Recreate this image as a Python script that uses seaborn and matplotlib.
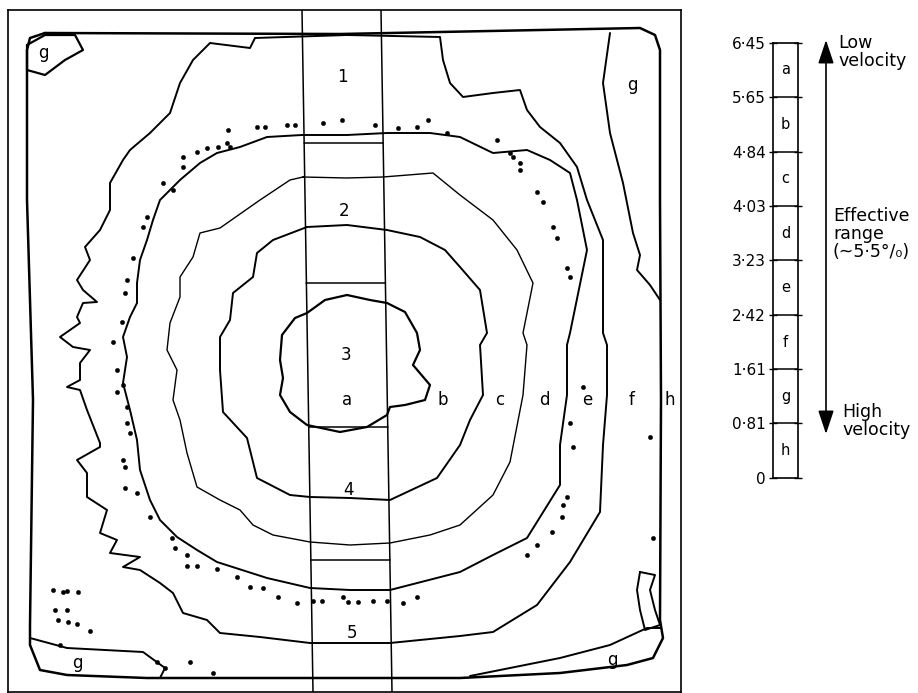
import matplotlib
matplotlib.use("Agg")
import matplotlib.pyplot as plt
import seaborn as sns
import pandas as pd

sns.set_theme(style="white")
plt.rcParams["font.family"] = ["DejaVu Sans"]
plt.rcParams["text.color"] = "black"
plt.rcParams["ytick.color"] = "black"

# ---------------- data (map units) ----------------
# contour a/b (innermost)
ab_x = [347, 370, 387, 405, 417, 420, 413, 430, 425, 405, 390, 387, 367, 340, 307, 290, 280, 283, 280, 282, 295, 307, 325, 347]
ab_y = [295, 300, 303, 312, 333, 350, 365, 385, 400, 405, 407, 415, 427, 432, 425, 412, 395, 378, 360, 335, 318, 313, 300, 295]
# contour b/c
bc_x = [307, 347, 387, 420, 445, 460, 480, 487, 480, 483, 470, 460, 437, 390, 350, 310, 290, 257, 247, 223, 220, 220, 230, 233, 253, 257, 273, 307]
bc_y = [227, 225, 230, 237, 250, 267, 290, 333, 345, 395, 420, 445, 478, 500, 498, 497, 495, 478, 438, 412, 370, 337, 320, 293, 277, 253, 240, 227]
# contour c/d
cd_x = [303, 347, 383, 433, 460, 493, 517, 533, 523, 527, 523, 510, 493, 460, 430, 390, 350, 310, 273, 253, 240, 220, 197, 187, 180, 173, 177, 167, 170, 180, 180, 193, 200, 220, 260, 290, 303]
cd_y = [177, 178, 177, 173, 195, 220, 250, 283, 333, 345, 395, 462, 495, 525, 535, 543, 545, 542, 535, 525, 510, 500, 487, 453, 420, 400, 370, 350, 323, 297, 277, 257, 233, 228, 200, 180, 177]
# contour d/e
de_x = [302, 347, 387, 430, 460, 493, 527, 550, 570, 577, 587, 570, 567, 567, 560, 560, 527, 493, 460, 390, 350, 310, 267, 217, 197, 177, 160, 150, 140, 137, 130, 123, 127, 123, 130, 137, 137, 140, 147, 153, 160, 180, 200, 217, 240, 267, 302]
de_y = [135, 135, 133, 133, 137, 153, 150, 160, 173, 200, 250, 333, 345, 395, 445, 485, 538, 555, 572, 590, 590, 588, 578, 562, 550, 537, 520, 500, 470, 440, 410, 383, 357, 337, 317, 303, 283, 260, 240, 220, 200, 180, 163, 153, 147, 137, 135]
# contour e/f
ef_x = [347, 440, 443, 450, 463, 493, 520, 527, 540, 560, 577, 587, 603, 603, 607, 607, 603, 600, 570, 537, 493, 460, 390, 310, 260, 220, 207, 183, 173, 160, 140, 123, 140, 110, 117, 100, 107, 87, 87, 77, 100, 100, 87, 80, 67, 80, 80, 90, 73, 60, 80, 77, 83, 97, 83, 77, 90, 85, 100, 110, 110, 123, 130, 150, 170, 180, 193, 210, 250, 255, 347]
ef_y = [35, 37, 60, 83, 97, 93, 90, 110, 127, 143, 167, 200, 240, 333, 345, 395, 445, 512, 562, 605, 632, 636, 643, 643, 637, 633, 620, 613, 593, 583, 570, 567, 557, 553, 540, 533, 510, 497, 473, 460, 447, 443, 410, 390, 387, 380, 363, 350, 347, 337, 323, 317, 303, 302, 290, 280, 260, 247, 230, 210, 183, 160, 150, 133, 113, 83, 60, 43, 48, 38, 35]
# outer contour (f/g and g/h)
out_x = [45, 340, 640, 655, 660, 660, 661, 660, 663, 653, 627, 560, 460, 310, 147, 67, 40, 30, 30, 33, 27, 27, 30, 45]
out_y = [33, 34, 28, 35, 50, 200, 400, 620, 638, 658, 665, 673, 678, 678, 678, 675, 670, 645, 625, 400, 200, 50, 38, 33]
# g zones near the corners
g1_x = [27, 45, 75, 83, 65, 45, 27]
g1_y = [45, 35, 35, 50, 60, 75, 70]
g2_x = [610, 603, 610, 623, 633, 640, 637, 650, 660]
g2_y = [33, 83, 133, 183, 233, 255, 270, 285, 300]
g3_x = [660, 647, 610, 560, 510, 470]
g3_y = [628, 628, 645, 658, 668, 676]
g4_x = [640, 655, 650, 655, 660, 645, 640, 637, 640]
g4_y = [572, 575, 590, 610, 625, 630, 610, 590, 572]
g5_x = [30, 67, 143, 165, 160]
g5_y = [638, 648, 652, 668, 678]

# isolated points
dot_x = [228, 257, 265, 287, 295, 323, 342, 375, 398, 417, 428, 447, 218, 227, 230, 207, 197, 183, 183, 163, 173, 147, 143, 133, 127, 125, 122, 113,
         497, 510, 513, 520, 520, 537, 543, 553, 557, 567, 570, 583, 570, 573, 567, 563, 562, 552, 537, 527, 650, 653,
         117, 117, 123, 127, 127, 130, 123, 125, 125, 137, 150, 172, 175, 187, 187, 197, 217, 237, 250, 263, 278, 297, 313, 322, 343, 348, 358, 373, 387, 403, 417,
         53, 63, 67, 78, 55, 67, 58, 68, 77, 90, 60, 190, 213, 157, 165]
dot_y = [130, 127, 127, 125, 125, 123, 120, 125, 128, 127, 120, 133, 147, 143, 147, 148, 152, 157, 167, 183, 190, 217, 227, 258, 280, 293, 322, 342,
         140, 153, 157, 163, 170, 192, 202, 227, 238, 268, 277, 387, 423, 447, 497, 505, 517, 532, 545, 555, 437, 538,
         370, 392, 385, 407, 423, 433, 460, 467, 488, 493, 517, 538, 548, 555, 566, 566, 569, 577, 587, 588, 597, 603, 601, 601, 597, 602, 602, 601, 601, 603, 597,
         590, 592, 591, 592, 610, 610, 620, 622, 624, 631, 645, 662, 673, 662, 668]

# sampling strip
strip_left_x = [302, 313]
strip_right_x = [381, 392]
strip_y = [10, 692]
cut_y = [143, 283, 427, 560]

# zone labels
zone_text = ["1", "2", "3", "a", "4", "5", "b", "c", "d", "e", "f", "h", "g", "g", "g", "g"]
zone_x = [342, 344, 346, 347, 349, 352, 443, 500, 544, 587, 632, 670, 43, 632, 77, 612]
zone_y = [77, 211, 355, 400, 490, 633, 400, 400, 400, 400, 400, 400, 53, 85, 663, 660]

# legend scale
levels = [0, 0.81, 1.61, 2.42, 3.23, 4.03, 4.84, 5.65, 6.45]
level_labels = ["0", "0·81", "1·61", "2·42", "3·23", "4·03", "4·84", "5·65", "6·45"]
classes = ["h", "g", "f", "e", "d", "c", "b", "a"]

# ---------------- figure ----------------
W, H = 918, 693
fig = plt.figure(figsize=(W / 100, H / 100), dpi=100)
fig.patch.set_facecolor("white")

def px_axes(x0, y0, x1, y1):
    return fig.add_axes([x0 / W, 1 - y1 / H, (x1 - x0) / W, (y1 - y0) / H])

ax = px_axes(8, 10, 681, 692)
ax.set_xlim(8, 681)
ax.set_ylim(692, 10)
ax.set_xticks([])
ax.set_yticks([])
for s in ax.spines.values():
    s.set_visible(True)
    s.set_color("black")
    s.set_linewidth(1.2)
ax.set_facecolor("white")

def curve(xs, ys, lw, closed=True):
    xs = list(xs); ys = list(ys)
    if closed and (xs[0] != xs[-1] or ys[0] != ys[-1]):
        xs.append(xs[0]); ys.append(ys[0])
    df = pd.DataFrame({"x": xs, "y": ys})
    sns.lineplot(data=df, x="x", y="y", sort=False, estimator=None, color="black",
                 linewidth=lw, ax=ax, legend=False)

curve(ab_x, ab_y, 1.6)
curve(bc_x, bc_y, 1.4)
curve(cd_x, cd_y, 1.0)
curve(de_x, de_y, 1.4)
curve(ef_x, ef_y, 1.4)
curve(out_x, out_y, 1.8)
curve(g1_x, g1_y, 1.6)
curve(g2_x, g2_y, 1.4, closed=False)
curve(g3_x, g3_y, 1.4, closed=False)
curve(g4_x, g4_y, 1.4)
curve(g5_x, g5_y, 1.4, closed=False)

sns.scatterplot(x=dot_x, y=dot_y, s=10, color="black", edgecolor="black", ax=ax, legend=False)

# strip
sns.lineplot(x=strip_left_x, y=strip_y, sort=False, estimator=None, color="black", linewidth=1.1, ax=ax)
sns.lineplot(x=strip_right_x, y=strip_y, sort=False, estimator=None, color="black", linewidth=1.1, ax=ax)
for cy in cut_y:
    t = (cy - strip_y[0]) / (strip_y[1] - strip_y[0])
    xl = strip_left_x[0] + t * (strip_left_x[1] - strip_left_x[0])
    xr = strip_right_x[0] + t * (strip_right_x[1] - strip_right_x[0])
    ax.plot([xl, xr], [cy, cy], color="black", lw=1.1)

for t, x, y in zip(zone_text, zone_x, zone_y):
    ax.text(x, y, t, ha="center", va="center", fontsize=12, color="black")
ax.set_xlabel(""); ax.set_ylabel("")

# ---------------- scale bar ----------------
lax = px_axes(773, 43, 798, 478)
lax.set_xlim(0, 1)
lax.set_ylim(0, levels[-1])
lax.set_xticks([])
lax.set_yticks(levels)
lax.set_yticklabels(level_labels, fontsize=11)
lax.tick_params(axis="y", direction="inout", length=6, width=1, left=True, right=True, pad=2, colors="black")
for s in lax.spines.values():
    s.set_visible(True); s.set_color("black"); s.set_linewidth(1.2)
for lv in levels[1:-1]:
    lax.axhline(lv, color="black", lw=1.1)
for i, c in enumerate(classes):
    lax.text(0.5, (levels[i] + levels[i + 1]) / 2, c, ha="center", va="center", fontsize=10.5, color="black")

# ---------------- annotations ----------------
oax = fig.add_axes([0, 0, 1, 1], facecolor="none")
oax.set_xlim(0, W); oax.set_ylim(H, 0); oax.axis("off")
oax.annotate("", xy=(826, 40), xytext=(826, 434),
             arrowprops=dict(arrowstyle="<|-|>,head_length=0.9,head_width=0.3", color="black", lw=1.2,
                             mutation_scale=16, shrinkA=0, shrinkB=0))
oax.text(838, 52, "Low\nvelocity", ha="left", va="center", fontsize=12.5, linespacing=1.0)
oax.text(833, 234, "Effective\nrange\n(~5·5°/\u2080)", ha="left", va="center", fontsize=12.5, linespacing=1.0)
oax.text(842, 421, "High\nvelocity", ha="left", va="center", fontsize=12.5, linespacing=1.0)

fig.savefig("out.png", dpi=100, facecolor="white")
